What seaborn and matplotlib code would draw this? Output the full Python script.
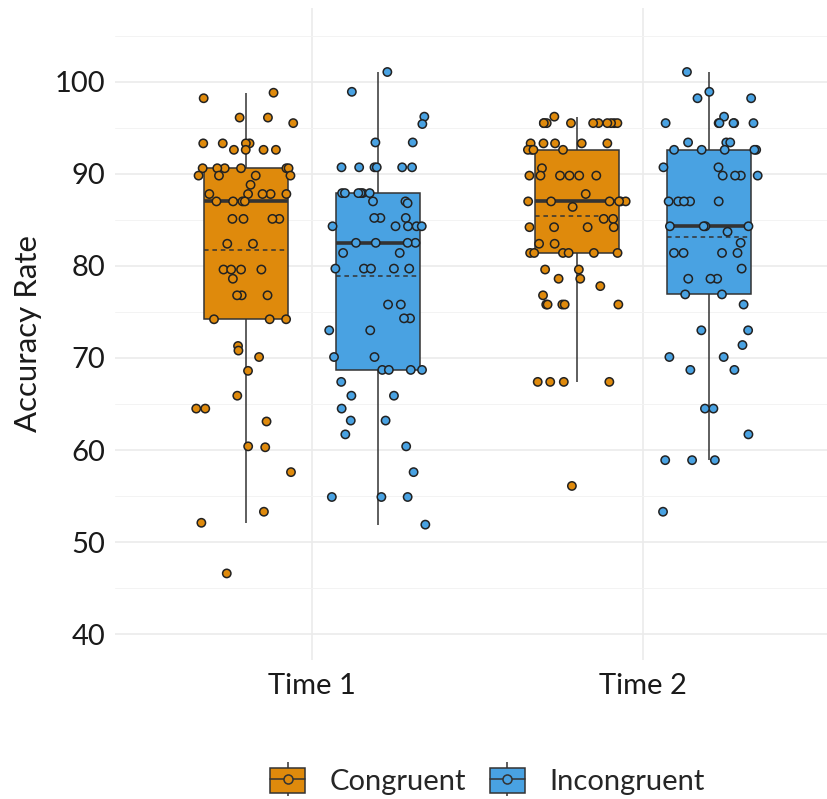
import numpy as np
import pandas as pd
import matplotlib
matplotlib.use("Agg")
import matplotlib.pyplot as plt
import seaborn as sns
from matplotlib.patches import Patch
from matplotlib.lines import Line2D
from matplotlib.legend_handler import HandlerTuple

# ---- data ----
times = ["Time 1", "Time 2"]
conditions = ["Congruent", "Incongruent"]

t1_congruent = [98.2, 98.8, 96.1, 96.1, 95.5,
                93.3, 93.3, 93.3, 93.3, 92.6, 92.6, 92.6, 92.6,
                90.6, 90.6, 90.6, 90.6, 90.6, 90.6, 89.8, 89.8, 89.8, 89.8,
                88.8, 87.8, 87.8, 87.8, 87.8, 87.8, 87.0, 87.0, 87.0, 87.0,
                85.1, 85.1, 85.1, 85.1, 82.4, 82.4, 79.6, 79.6, 79.6, 79.6,
                78.6, 76.8, 76.8, 76.8, 74.2, 74.2, 74.2,
                71.3, 70.8, 70.1, 68.6, 65.9, 64.5, 64.5, 63.1, 60.4, 60.3,
                57.6, 53.3, 52.1, 46.6]

t1_incongruent = [101.05, 98.9, 96.2, 95.4, 93.4, 93.4,
                  90.7, 90.7, 90.7, 90.7, 90.7, 90.7,
                  87.9, 87.9, 87.9, 87.9, 87.9, 87.9, 87.0, 87.0, 86.8,
                  85.2, 85.2, 85.2, 84.3, 84.3, 84.3, 84.3, 84.3,
                  82.5, 82.5, 82.5, 82.5, 81.4, 81.4,
                  79.7, 79.7, 79.7, 79.7, 79.7, 75.8, 75.8, 74.3, 74.3,
                  73.0, 73.0, 70.1, 70.1, 68.7, 68.7, 68.7, 68.7, 67.4,
                  65.9, 65.9, 64.5, 63.2, 63.2, 61.7, 60.4, 57.6,
                  54.9, 54.9, 54.9, 51.9]

t2_congruent = [96.2, 95.5, 95.5, 95.5, 95.5, 95.5, 95.5, 95.5, 95.5, 95.5, 95.5,
                93.3, 93.3, 93.3, 93.3, 93.3, 92.6, 92.6, 92.6, 92.6,
                90.6, 89.8, 89.8, 89.8, 89.8, 89.8, 89.8, 87.8,
                87.0, 87.0, 87.0, 87.0, 87.0, 87.0, 86.4, 85.1, 85.1,
                84.2, 84.2, 84.2, 84.2, 82.4, 82.4,
                81.4, 81.4, 81.4, 81.4, 81.4, 81.4, 79.6, 79.6, 78.6, 78.6,
                77.8, 76.8, 75.8, 75.8, 75.8, 75.8, 75.8,
                67.4, 67.4, 67.4, 67.4, 56.1]

t2_incongruent = [101.05, 98.9, 98.2, 98.2, 96.2, 95.5, 95.5, 95.5, 95.5,
                  95.5, 95.5,
                  93.4, 93.4, 93.4, 92.6, 92.6, 92.6, 92.6, 92.6,
                  90.7, 90.7, 89.8, 89.8, 89.8, 89.8,
                  87.0, 87.0, 87.0, 87.0, 87.0, 84.3, 84.3, 84.3, 84.3,
                  83.7, 82.5, 81.4, 81.4, 81.4, 81.4, 79.7, 78.6, 78.6, 78.6,
                  76.9, 76.9, 75.8, 73.0, 73.0, 71.4, 70.1, 70.1, 68.7, 68.7,
                  64.5, 64.5, 61.7, 58.9, 58.9, 58.9, 53.3]

y_ticks = [40, 50, 60, 70, 80, 90, 100]
palette = {"Congruent": "#DF8A0C", "Incongruent": "#49A2E2"}

# ---- assemble long table ----
groups = {("Time 1", "Congruent"): t1_congruent,
          ("Time 1", "Incongruent"): t1_incongruent,
          ("Time 2", "Congruent"): t2_congruent,
          ("Time 2", "Incongruent"): t2_incongruent}
rows = []
for (t, c), vals in groups.items():
    for v in vals:
        rows.append({"Time": t, "Condition": c, "Accuracy": v})
df = pd.DataFrame(rows)

sns.set_theme(style="white")
plt.rcParams["font.family"] = ["Lato", "DejaVu Sans"]

fig = plt.figure(figsize=(8.28, 7.99), dpi=100)
ax = fig.add_axes([115 / 828, 1 - 660 / 799, 1 - 115 / 828, (660 - 8) / 799])

edge = "#333333"
sns.boxplot(data=df, x="Time", y="Accuracy", hue="Condition", order=times,
            hue_order=conditions, palette=palette, width=0.8, gap=0.365,
            dodge=True, showfliers=False, showcaps=False, saturation=1,
            linecolor=edge, linewidth=1.1,
            medianprops=dict(color=edge, linewidth=2.6),
            whiskerprops=dict(color=edge, linewidth=1.1),
            showmeans=True, meanline=True,
            meanprops=dict(color=edge, linestyle=(0, (3, 2.5)), linewidth=1.1),
            legend=False, ax=ax, zorder=2)

np.random.seed(7)
sns.stripplot(data=df, x="Time", y="Accuracy", hue="Condition", order=times,
              hue_order=conditions, palette=palette, dodge=True, jitter=0.3,
              size=6.0, linewidth=1.1, edgecolor="#222222", legend=False,
              ax=ax, zorder=3)

ax.set_xlim(-0.595, 1.559)
ax.set_ylim(37.2, 108)
ax.set_yticks(y_ticks)
ax.set_yticks([45, 55, 65, 75, 85, 95, 105], minor=True)
ax.grid(True, which="major", color="#EBEBEB", linewidth=1.2, zorder=0)
ax.grid(True, which="minor", axis="y", color="#F3F3F3", linewidth=0.7, zorder=0)
ax.set_axisbelow(True)
for s in ax.spines.values():
    s.set_visible(False)
ax.tick_params(axis="both", which="both", length=0, labelsize=21,
               labelcolor="#1a1a1a")
ax.tick_params(axis="y", pad=7)
ax.tick_params(axis="x", pad=9)
ax.set_xlabel("")
ax.set_ylabel("Accuracy Rate", fontsize=22.5, color="#1a1a1a", labelpad=9)

handles = []
for c in conditions:
    handles.append((Line2D([], [], color=edge, marker="|", markersize=25,
                           linestyle="None", markeredgewidth=1.1),
                    Patch(facecolor=palette[c], edgecolor=edge, linewidth=1.1),
                    Line2D([], [], color=edge, linewidth=1.1, marker="o",
                           markersize=6.5, markerfacecolor=palette[c],
                           markeredgecolor=edge, markeredgewidth=1.1)))
fig.legend(handles, conditions, loc="center", bbox_to_anchor=(0.589, 0.022),
           ncol=2, frameon=False, fontsize=21, handlelength=1.2,
           handleheight=0.95, handletextpad=0.85, columnspacing=0.8,
           handler_map={tuple: HandlerTuple(ndivide=1, pad=0)})

fig.savefig("out.png", dpi=100)
